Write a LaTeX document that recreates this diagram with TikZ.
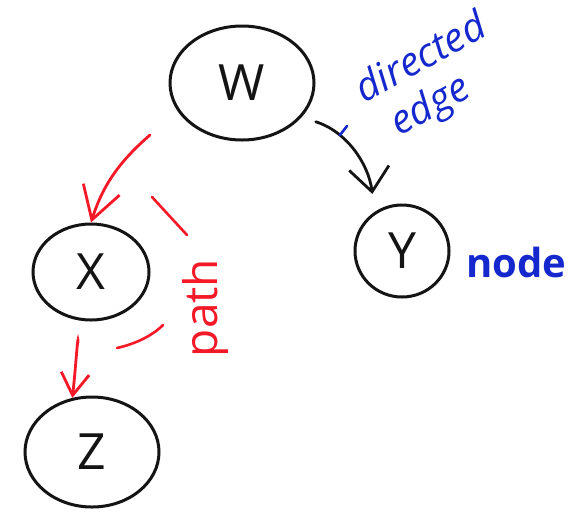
\documentclass[tikz,border=0pt]{standalone}
\usepackage{fontspec}
\setmainfont{Open Sans}
\usetikzlibrary{shapes.geometric,arrows.meta}
\definecolor{pen}{RGB}{20,20,20}
\definecolor{redpen}{RGB}{245,25,40}
\definecolor{bluepen}{RGB}{20,40,205}
\begin{document}
\begin{tikzpicture}[x=1pt,y=-1pt,
  vertex/.style={ellipse,draw=pen,line width=3pt,inner sep=0pt,text=pen,
    font=\fontsize{50}{56}\selectfont},
  blackarrow/.style={draw=pen,line width=2.8pt,line cap=round,
    -{Straight Barb[length=24pt,width=40pt,line width=2.8pt]}},
  redarrow/.style={draw=redpen,line width=2.8pt,line cap=round,
    -{Straight Barb[length=32pt,width=38pt,line width=2.8pt]}},
  redarrowsmall/.style={draw=redpen,line width=2.8pt,line cap=round,
    -{Straight Barb[length=22pt,width=28pt,line width=2.8pt]}},
  redmark/.style={draw=redpen,line width=2.6pt,line cap=round},
  bluemark/.style={draw=bluepen,line width=2.6pt,line cap=round},
  bluetext/.style={text=bluepen,inner sep=0pt},
  redtext/.style={text=redpen,inner sep=0pt}
]
\useasboundingbox[fill=white] (0,0) rectangle (588,512);

% nodes
\node[vertex,minimum width=144pt,minimum height=114pt] (W) at (242,83) {W};
\node[vertex,minimum width=94pt,minimum height=92pt] (Y) at (402,251) {Y};
\node[vertex,minimum width=116pt,minimum height=96pt] (X) at (91,272) {X};
\node[vertex,minimum width=134pt,minimum height=110pt] (Z) at (92,452) {Z};

% directed edge W -> Y
\draw[blackarrow,shorten <=15pt,shorten >=18pt]
  (W.-30) .. controls +(45,14) and +(-6,-48) .. (Y.125);

% red path arrows
\coordinate (p1) at (150,135);
\draw[redarrow] (p1) .. controls +(-30,26) and +(12,-38) .. (X.north);
\draw[redarrowsmall,shorten <=22pt] (X.-105) .. controls +(0,10) and +(3,-25) .. (Z.110);

% red bracket marks
\coordinate (m1) at (152,197);
\coordinate (m2) at (187,235);
\coordinate (m3) at (117,348);
\coordinate (m4) at (163,325);
\draw[redmark] (m1) -- (m2);
\draw[redmark] (m3) .. controls (135,344) and (152,336) .. (m4);

% labels
\node[redtext,rotate=90,font=\fontsize{46}{50}\selectfont] (path) at (206,308) {path};
\node[bluetext,rotate=29,align=center,font=\itshape\fontsize{40}{46}\selectfont]
  (label) at (433,80) {directed\\\hspace*{-30pt}edge};
\coordinate (d1) at (340,135);
\coordinate (d2) at (347,126);
\draw[bluemark] (d1) -- (d2);
\node[bluetext,font=\bfseries\fontsize{40}{46}\selectfont] (node) at (516,262) {node};
\end{tikzpicture}
\end{document}
